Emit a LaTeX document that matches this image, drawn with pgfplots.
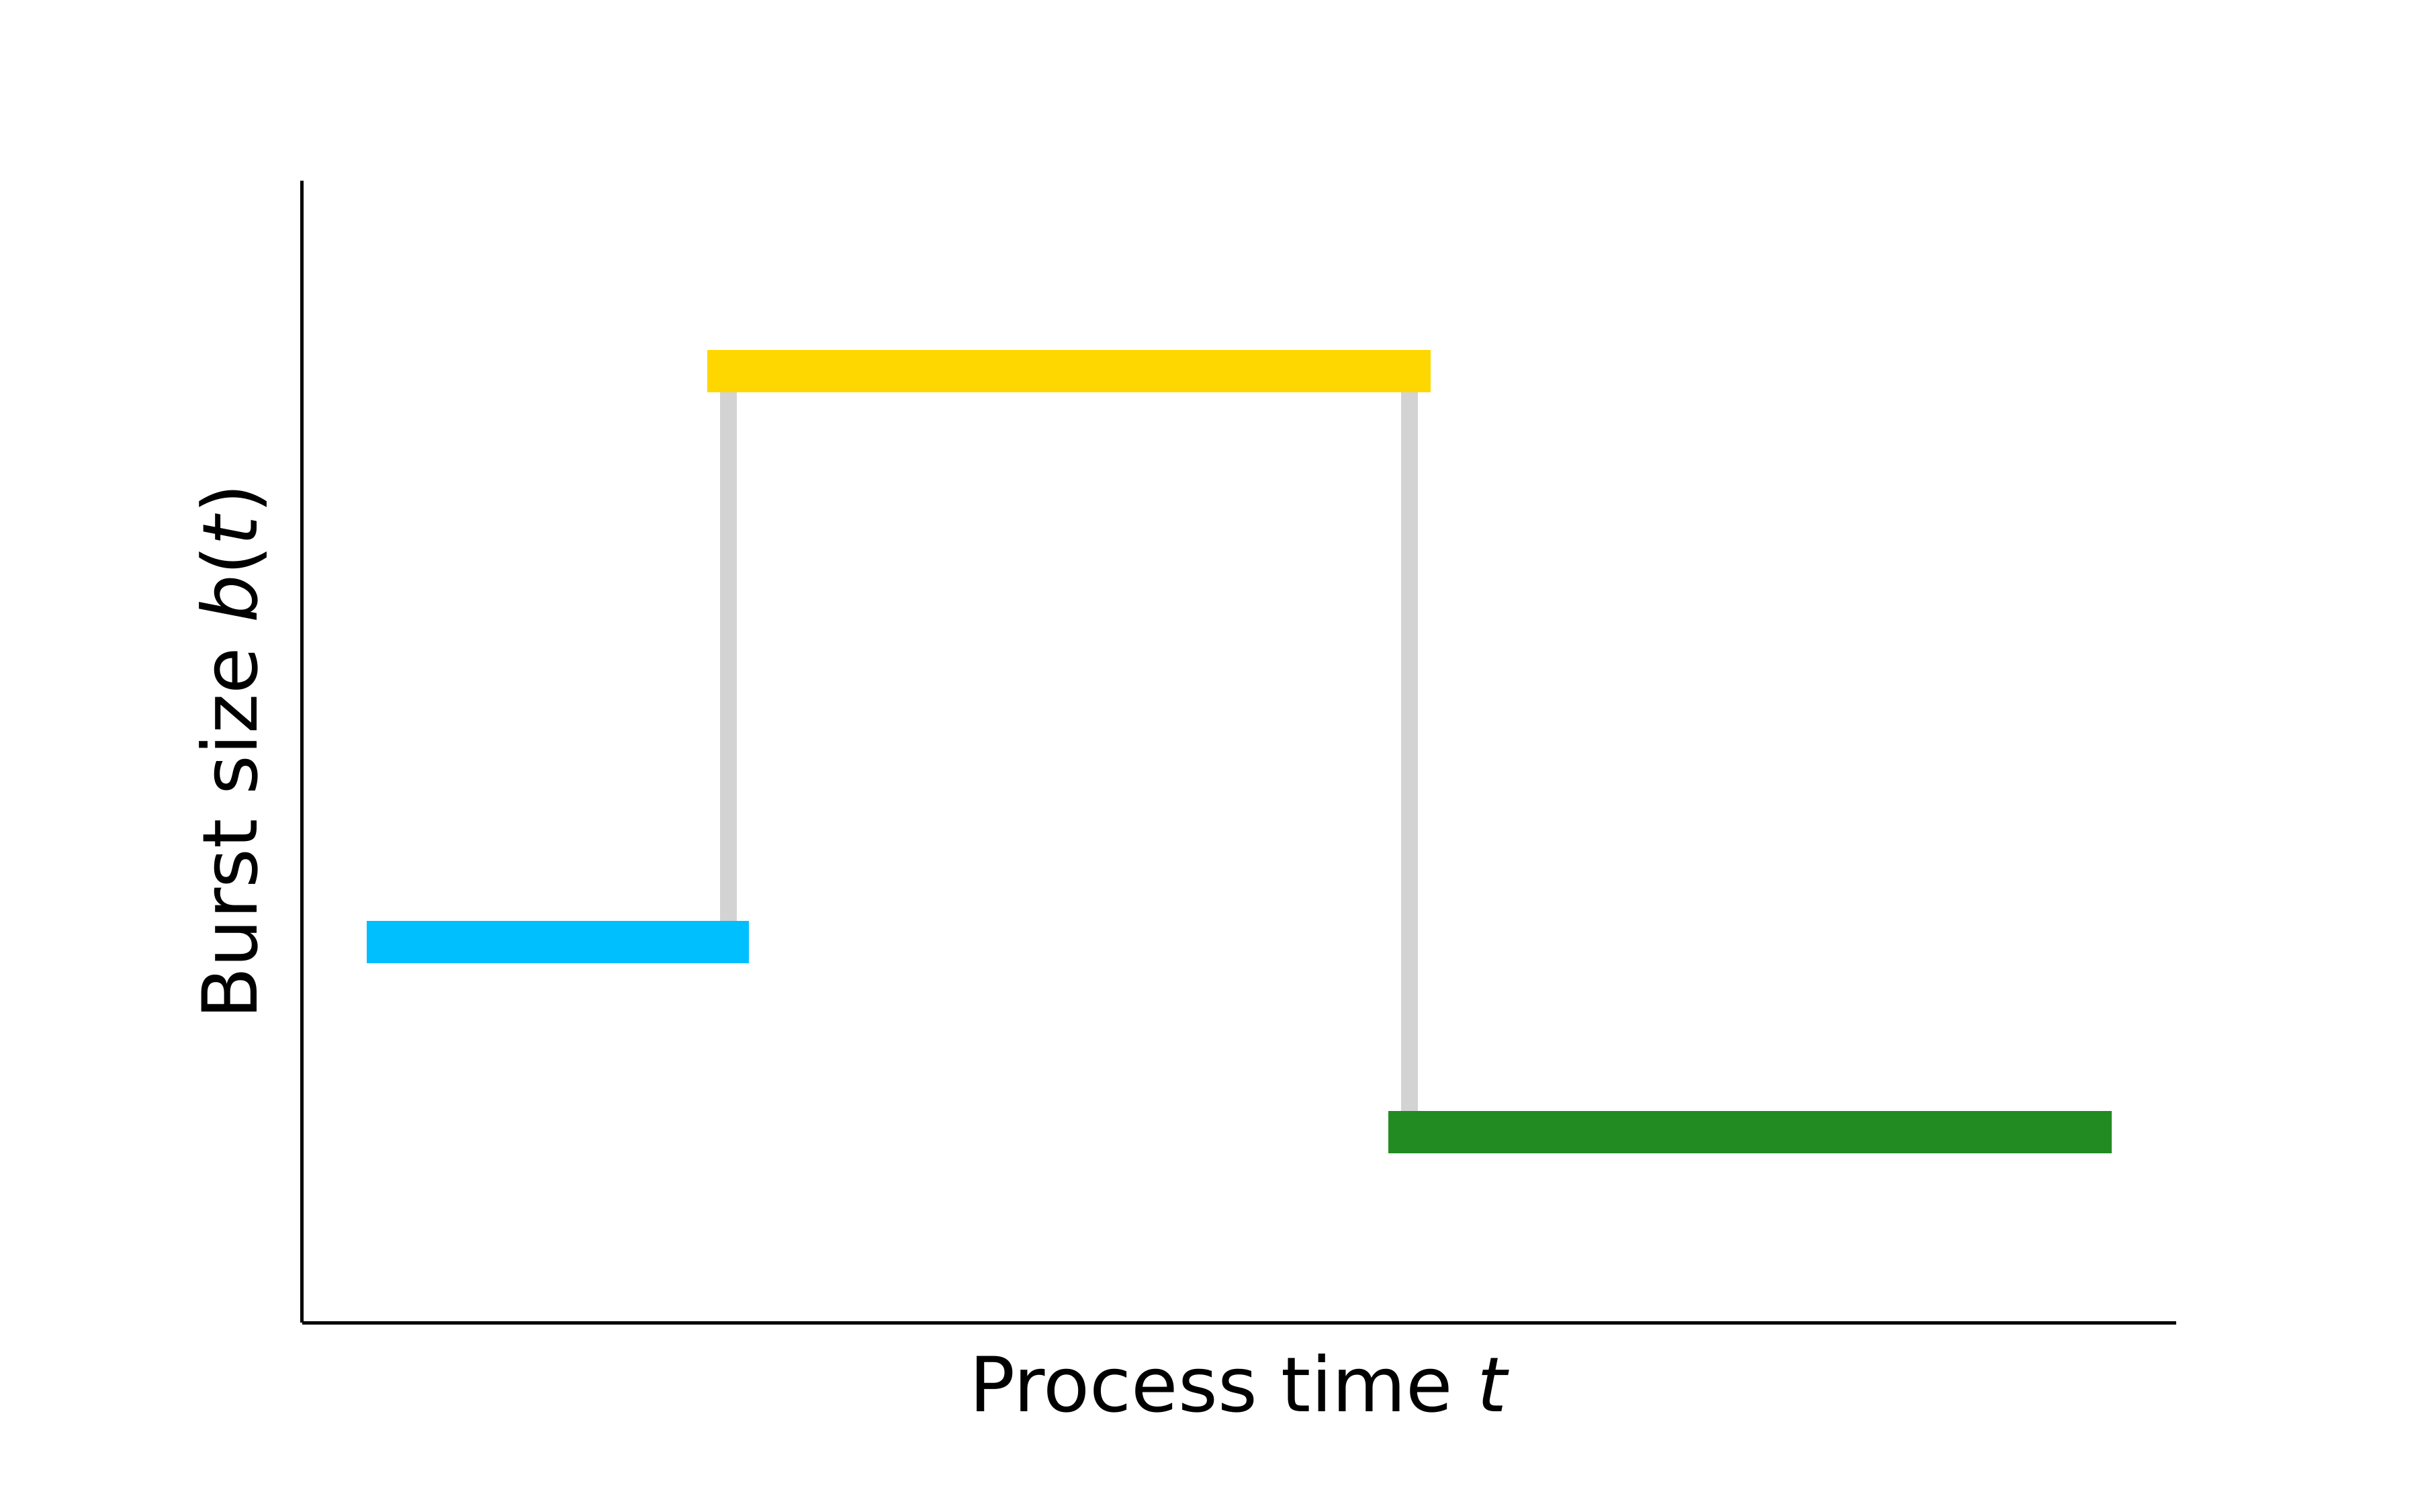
\documentclass[border=0pt]{standalone}
\usepackage{fontspec}
\setmainfont{DejaVu Sans}
\usepackage{pgfplots}
\pgfplotsset{compat=1.18}
\definecolor{dsb}{RGB}{0,191,255}
\definecolor{gld}{RGB}{255,215,0}
\definecolor{fgr}{RGB}{34,139,34}
\definecolor{lgr}{RGB}{211,211,211}
\begin{document}
\begin{tikzpicture}
\begin{axis}[
  scale only axis, width=558pt, height=340pt,
  xmin=-0.25, xmax=5.25, ymin=0, ymax=3,
  axis lines=left,
  axis line style={-, line width=1pt, black},
  xtick=\empty, ytick=\empty,
  clip=false,
  every axis x label/.style={at={(axis description cs:0.5,-0.078)}, anchor=base, font=\fontsize{22.6}{27}\selectfont},
  every axis y label/.style={at={(axis description cs:-0.0242,0.5)}, rotate=90, anchor=base, font=\fontsize{22.6}{27}\selectfont},
  xlabel={Process time \textit{t}},
  ylabel={Burst size \textit{b}(\textit{t})},
]
\addplot[lgr, line width=5pt, mark=none] coordinates {(1,1) (1,2.5)};
\addplot[lgr, line width=5pt, mark=none] coordinates {(3,2.5) (3,0.5)};
\addplot[dsb, line width=12.5pt, line cap=rect, mark=none] coordinates {(0,1) (1,1)};
\addplot[gld, line width=12.5pt, line cap=rect, mark=none] coordinates {(1,2.5) (3,2.5)};
\addplot[fgr, line width=12.5pt, line cap=rect, mark=none] coordinates {(3,0.5) (5,0.5)};
\coordinate (bl) at (rel axis cs:0,0);
\coordinate (tr) at (rel axis cs:1,1);
\end{axis}
\pgfresetboundingbox
\path (bl) ++(-90pt,-56.2pt) coordinate (p1);
\path (tr) ++(72pt,53.8pt) coordinate (p2);
\path[use as bounding box] (p1) rectangle (p2);
\end{tikzpicture}
\end{document}
